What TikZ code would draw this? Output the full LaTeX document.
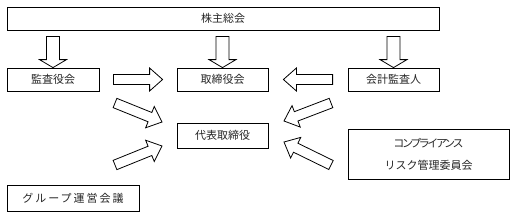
\documentclass[tikz,border=0pt]{standalone}
\usepackage{fontspec}
\newfontfamily\jp{Noto Sans CJK JP}
\newfontfamily\jpp[LetterSpace=-22]{Noto Sans CJK JP}
\usetikzlibrary{calc}
\tikzset{
  box/.style={draw=black, line width=0.8pt, font=\jp\fontsize{11}{13}\selectfont, text=black!85, inner sep=0pt},
  blk/.style={draw=black, line width=0.8pt, fill=white, line join=miter},
}
\newcommand\blockarr[5]{%
  \coordinate (ba-h) at ($(#2)!#5!(#1)$);
  \draw[blk] ($(#1)!#3!90:(#2)$) -- ($(ba-h)!#3!90:(#2)$) -- ($(ba-h)!#4!90:(#2)$) -- (#2)
    -- ($(ba-h)!#4!-90:(#2)$) -- ($(ba-h)!#3!-90:(#2)$) -- ($(#1)!#3!-90:(#2)$) -- cycle;
}
\begin{document}
\begin{tikzpicture}[x=1pt,y=-1pt]
\useasboundingbox[fill=white] (0,0) rectangle (513,218);
\node[box, minimum width=432pt, minimum height=23pt] (top) at (223,18.5) {株主総会};
\node[box, minimum width=92pt, minimum height=23pt] (kansa) at (53,79.5) {監査役会};
\node[box, minimum width=91pt, minimum height=23pt] (tori) at (222.5,79.5) {取締役会};
\node[box, minimum width=91pt, minimum height=23pt] (kaikei) at (393.5,79.5) {会計監査人};
\node[box, minimum width=91pt, minimum height=25pt] (daihyo) at (222.5,135.5) {代表取締役};
\node[box, minimum width=161pt, minimum height=50pt, align=center] (comp) at (428.5,154)
  {{\jpp\fontsize{11}{13}\selectfont コンプライアンス}\\[9pt]リスク管理委員会};
\node[box, minimum width=132pt, minimum height=26pt, font=\jp\fontsize{11}{13}\selectfont\addfontfeature{LetterSpace=18}] (group) at (73,198) {グループ運営会議};
% down arrows
\coordinate (d1s) at ([yshift=-6pt]top.south -| kansa.north);
\coordinate (d2s) at ([yshift=-6pt]top.south -| tori.north);
\coordinate (d3s) at ([yshift=-6pt]top.south -| kaikei.north);
\blockarr{d1s}{kansa.north}{6.5pt}{13.5pt}{8pt}
\blockarr{d2s}{tori.north}{6.5pt}{13.5pt}{8pt}
\blockarr{d3s}{kaikei.north}{6.5pt}{13.5pt}{8pt}
% horizontal arrows
\coordinate (h1s) at ([xshift=14pt]kansa.east);
\coordinate (h1e) at ([xshift=-14pt]tori.west);
\coordinate (h2s) at ([xshift=-15pt]kaikei.west);
\coordinate (h2e) at ([xshift=15pt]tori.east);
\blockarr{h1s}{h1e}{5pt}{11.5pt}{13pt}
\blockarr{h2s}{h2e}{5pt}{11.5pt}{13pt}
% diagonal arrows
\coordinate (a1s) at (115,103); \coordinate (a1e) at (162,122);
\coordinate (a2s) at (115,165); \coordinate (a2e) at (162,146);
\coordinate (a3s) at (331,103); \coordinate (a3e) at (284,121);
\coordinate (a4s) at (331,165); \coordinate (a4e) at (284,142);
\blockarr{a1s}{a1e}{5pt}{11.5pt}{13pt}
\blockarr{a2s}{a2e}{5pt}{11.5pt}{13pt}
\blockarr{a3s}{a3e}{5pt}{11.5pt}{13pt}
\blockarr{a4s}{a4e}{5pt}{11.5pt}{13pt}
\end{tikzpicture}
\end{document}
